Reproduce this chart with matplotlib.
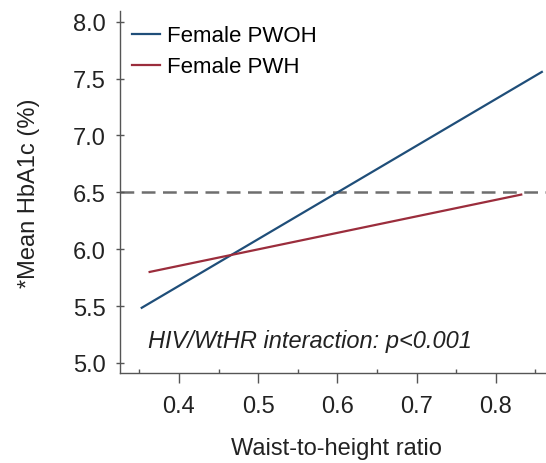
import matplotlib
matplotlib.use("Agg")
import matplotlib.pyplot as plt
from matplotlib.ticker import MultipleLocator

plt.rcParams["font.family"] = ["Liberation Sans", "DejaVu Sans"]

# predicted mean HbA1c vs waist-to-height ratio
pwoh_x = [0.353, 0.858]
pwoh_y = [5.485, 7.558]
pwh_x = [0.363, 0.832]
pwh_y = [5.80, 6.48]
labels = ["Female PWOH", "Female PWH"]
threshold = 6.5
yticks = [5.0, 5.5, 6.0, 6.5, 7.0, 7.5, 8.0]
xticks = [0.4, 0.5, 0.6, 0.7, 0.8]

blue = "#1f4e79"
red = "#9b2d3c"
axis_grey = "#555555"

fig = plt.figure(figsize=(5.46, 4.64), dpi=100)
ax = fig.add_axes([0.2198, 0.194, 0.791, 0.781])

ax.plot(pwoh_x, pwoh_y, color=blue, lw=1.6, label=labels[0])
ax.plot(pwh_x, pwh_y, color=red, lw=1.6, label=labels[1])
ax.axhline(threshold, color="#6e6e6e", lw=1.8, ls=(0, (5.5, 3)), zorder=1)

ax.set_xlim(0.3256, 0.8707)
ax.set_ylim(4.912, 8.097)
ax.set_xticks(xticks)
ax.set_yticks(yticks)
ax.set_xticklabels([f"{t:.1f}" for t in xticks])
ax.set_yticklabels([f"{t:.1f}" for t in yticks])
ax.xaxis.set_minor_locator(MultipleLocator(0.05))

for s in ["top", "right"]:
    ax.spines[s].set_visible(False)
for s in ["left", "bottom"]:
    ax.spines[s].set_color(axis_grey)
    ax.spines[s].set_linewidth(1.0)

ax.tick_params(axis="y", which="major", direction="inout", length=6, width=1,
               color=axis_grey, labelsize=17, pad=7, labelcolor="#222222")
ax.tick_params(axis="x", which="major", direction="out", length=7, width=1,
               color=axis_grey, labelsize=17, pad=9, labelcolor="#222222")
ax.tick_params(axis="x", which="minor", direction="in", length=3, width=1,
               color=axis_grey)

ax.set_xlabel("Waist-to-height ratio", fontsize=17, labelpad=14, color="#222222")
ax.set_ylabel("*Mean HbA1c (%)", fontsize=17, labelpad=24, color="#222222")

ax.text(0.361, 5.2, "HIV/WtHR interaction: p<0.001", fontsize=17,
        style="italic", color="#222222", va="center")

ax.legend(loc="upper left", frameon=False, fontsize=16, handlelength=1.25,
          handletextpad=0.3, labelspacing=0.45, borderaxespad=0.4,
          bbox_to_anchor=(-0.013, 1.008))

fig.savefig("out.png", dpi=100)
